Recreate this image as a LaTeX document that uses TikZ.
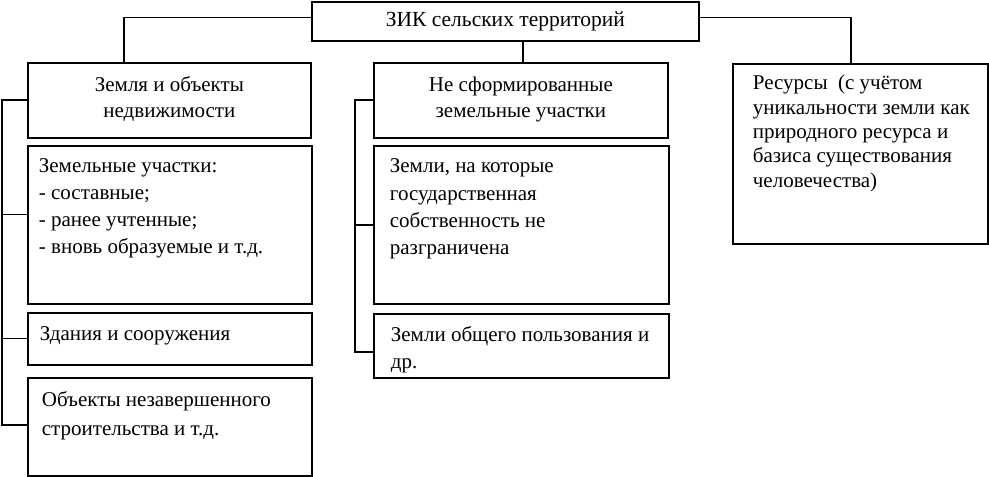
\documentclass[tikz,border=0pt]{standalone}
\usepackage{fontspec}
\setmainfont{Liberation Serif}
\usetikzlibrary{calc}

\tikzset{
  box/.style={draw, line width=1.8pt, anchor=north west, inner sep=0pt, align=center},
  cell/.style={draw, line width=1.8pt, anchor=north west, inner sep=0pt, font=\fontsize{21}{#1}\selectfont},
  link/.style={line width=1.1pt},
  bus/.style={line width=1.9pt}
}
% text box of fixed size: width, height, left pad, first baseline, text
\newcommand{\cellbox}[5]{\parbox[t][#2][t]{#1}{\raggedright\leftskip=#3\rule{0pt}{#4}#5}}

\begin{document}
\begin{tikzpicture}[x=1pt,y=-1pt,font=\fontsize{21.5}{26}\selectfont]
\useasboundingbox (0,0) rectangle (989,477);

\node[box, minimum width=387pt, minimum height=39pt] (zik) at (311,1) {ЗИК сельских территорий};

\node[cell=26pt] (land) at (27,62) {\cellbox{283pt}{75pt}{0pt}{29pt}{\centering Земля и объекты\\недвижимости}};
\node[cell=26pt] (unform) at (373,62) {\cellbox{294pt}{75pt}{0pt}{29pt}{\centering Не сформированные\\земельные участки}};
\node[cell=24.3pt] (res) at (732,63) {\cellbox{255pt}{180pt}{20pt}{26pt}{Ресурсы~ (с учётом\\уникальности земли как\\природного ресурса и\\базиса существования\\человечества)}};

\node[cell=26.7pt] (plots) at (27,145) {\cellbox{284pt}{158pt}{11pt}{27pt}{Земельные участки:\\- составные;\\- ранее учтенные;\\- вновь образуемые и т.д.}};
\node[cell=26.7pt] (bldg) at (27,312) {\cellbox{284pt}{52pt}{12pt}{28pt}{Здания и сооружения}};
\node[cell=28.4pt] (unfin) at (27,377) {\cellbox{284pt}{98pt}{14pt}{29pt}{Объекты незавершенного\\строительства и т.д.}};

\node[cell=27.2pt] (state) at (373,145) {\cellbox{295pt}{158pt}{16pt}{27pt}{Земли, на которые\\государственная\\собственность не\\разграничена}};
\node[cell=26.5pt] (common) at (373,313) {\cellbox{295pt}{64pt}{17pt}{28pt}{Земли общего пользования и\\др.}};

\coordinate (lt) at (124,62);
\coordinate (mt) at (523,62);
\coordinate (rt) at (851,63);
\draw[link] ([yshift=4pt]zik.west) -| (lt);
\draw[link] ([yshift=4pt]zik.east) -| (rt);
\draw[link] (zik.south -| mt) -- (mt);

\draw[bus] (land.west) -- ++(-25,0) coordinate (lb) |- ([yshift=2pt]unfin.west);
\draw[link] ([yshift=10pt]plots.west) -- ([yshift=10pt]plots.west -| lb);
\draw[link] (bldg.west) -- (bldg.west -| lb);

\draw[bus] (unform.west) -- ++(-18,0) coordinate (mb) |- ([yshift=-6pt]common.west);
\draw[bus] (state.west) -- (state.west -| mb);
\end{tikzpicture}
\end{document}
